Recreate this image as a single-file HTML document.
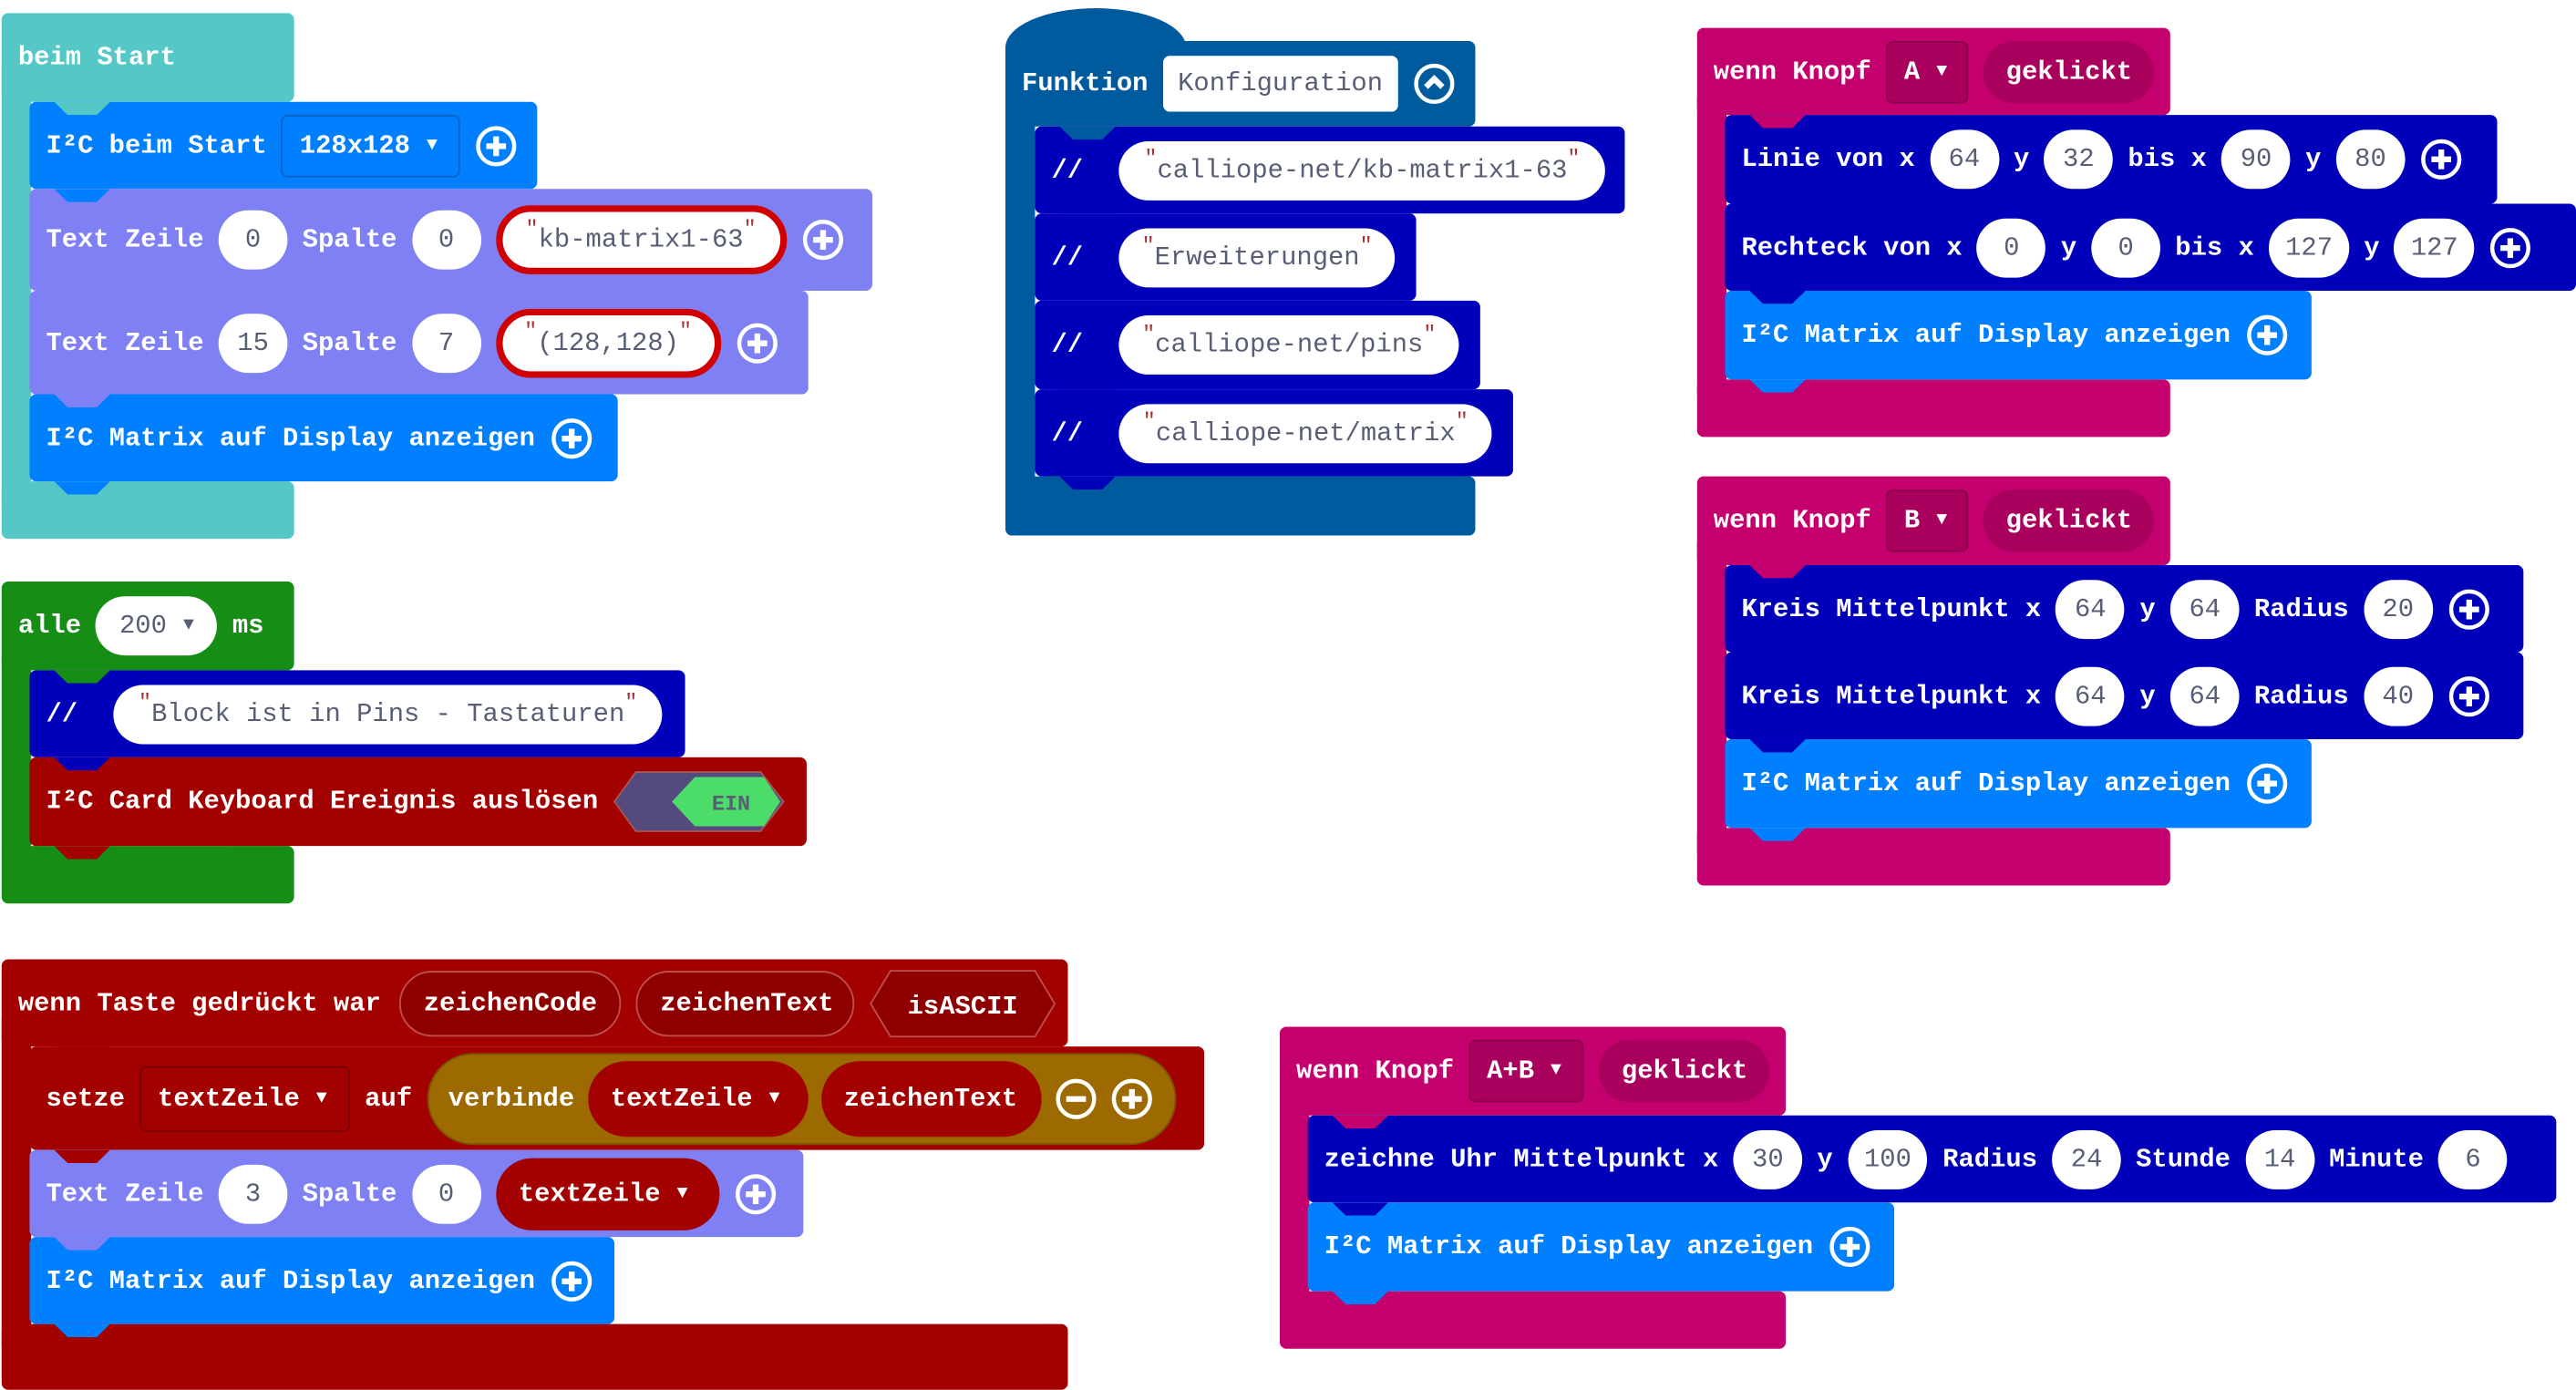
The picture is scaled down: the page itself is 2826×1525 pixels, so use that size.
<!DOCTYPE html>
<html><head><meta charset="utf-8"><style>
html,body{margin:0;padding:0;background:#fff;overflow:hidden}
#w{position:absolute;left:0;top:0;width:1568px;height:842px;transform:scale(1.80230);transform-origin:0 0}
.r{position:absolute;border-radius:4px}
.b{position:absolute;display:flex;align-items:center;gap:9px;padding-left:10px;box-sizing:border-box;color:#fff;font:bold 16px "Liberation Mono",monospace;border-radius:4px;white-space:nowrap}
.p{background:#fff;color:#575e75;height:36px;border-radius:18px;display:inline-flex;align-items:center;justify-content:center;min-width:42px;padding:0 10px;box-sizing:border-box;font-weight:normal}
.s{padding:0 14px}
.q{color:#a33;font-size:13px;position:relative;top:-7px}
.rb{border:4px solid #d00000}
.dd{height:38px;border-radius:4px;display:inline-flex;align-items:center;padding:0 10px;box-sizing:border-box;gap:10px}
.rp{height:40px;border-radius:20px;display:inline-flex;align-items:center;padding:0 14px;box-sizing:border-box;gap:10px}
.t{position:absolute;width:34px;height:8px;clip-path:polygon(0 0,100% 0,76% 100%,24% 100%)}
.ar{font-size:11px}
</style></head><body><div id="w">

<!-- beim Start -->
<div class="r" style="left:1px;top:8px;width:178px;height:54px;background:#55c7c7"></div>
<div class="r" style="left:1px;top:40px;width:18px;height:270px;background:#55c7c7;border-radius:0"></div>
<div class="r" style="left:1px;top:293px;width:178px;height:35px;background:#55c7c7"></div>
<div class="b" style="left:1px;top:8px;width:178px;height:54px">beim Start</div>
<div class="b" style="left:18px;top:62px;width:309px;height:53px;background:#0080ff">I²C beim Start <span class="dd" style="border:1px solid #0a62c0;width:109px">128x128 <span class="ar">▼</span></span><svg width="26" height="26"><circle cx="13" cy="13" r="11" fill="none" stroke="#fff" stroke-width="2.5"/><path d="M13 7v12M7 13h12" stroke="#fff" stroke-width="3.5"/></svg></div>
<div class="t" style="left:33px;top:62px;background:#55c7c7"></div>
<div class="b" style="left:18px;top:115px;width:513px;height:62px;background:#8080f5">Text Zeile <span class="p">0</span> Spalte <span class="p">0</span><span class="p s rb" style="width:177px;height:42px;border-radius:21px"><span class="q">"</span>kb-matrix1-63<span class="q">"</span></span><svg width="26" height="26"><circle cx="13" cy="13" r="11" fill="none" stroke="#fff" stroke-width="2.5"/><path d="M13 7v12M7 13h12" stroke="#fff" stroke-width="3.5"/></svg></div>
<div class="t" style="left:33px;top:115px;background:#0080ff"></div>
<div class="b" style="left:18px;top:177px;width:474px;height:63px;background:#8080f5">Text Zeile <span class="p">15</span> Spalte <span class="p">7</span><span class="p s rb" style="width:137px;height:42px;border-radius:21px"><span class="q">"</span>(128,128)<span class="q">"</span></span><svg width="26" height="26"><circle cx="13" cy="13" r="11" fill="none" stroke="#fff" stroke-width="2.5"/><path d="M13 7v12M7 13h12" stroke="#fff" stroke-width="3.5"/></svg></div>
<div class="t" style="left:33px;top:177px;background:#8080f5"></div>
<div class="b" style="left:18px;top:240px;width:358px;height:53px;background:#0080ff">I²C Matrix auf Display anzeigen<svg width="26" height="26"><circle cx="13" cy="13" r="11" fill="none" stroke="#fff" stroke-width="2.5"/><path d="M13 7v12M7 13h12" stroke="#fff" stroke-width="3.5"/></svg></div>
<div class="t" style="left:33px;top:240px;background:#8080f5"></div>
<div class="t" style="left:33px;top:293px;background:#0080ff"></div>

<!-- alle -->
<div class="r" style="left:1px;top:354px;width:178px;height:54px;background:#168e16"></div>
<div class="r" style="left:1px;top:400px;width:18px;height:120px;background:#168e16;border-radius:0"></div>
<div class="r" style="left:1px;top:515px;width:178px;height:35px;background:#168e16"></div>
<div class="b" style="left:1px;top:354px;width:178px;height:54px">alle <span class="p" style="width:74px;gap:10px;font-weight:normal">200 <span class="ar">▼</span></span> ms</div>
<div class="b" style="left:18px;top:408px;width:399px;height:53px;background:#0000bb;gap:22px">// <span class="p s" style="width:334px"><span class="q">"</span>Block ist in Pins - Tastaturen<span class="q">"</span></span></div>
<div class="t" style="left:33px;top:408px;background:#168e16"></div>
<div class="b" style="left:18px;top:461px;width:473px;height:54px;background:#a30000">I²C Card Keyboard Ereignis auslösen
<svg width="106" height="38" style="margin-left:0"><polygon points="1,19 14,1 90,1 104,19 90,37 14,37" fill="#554a7e" stroke="#a55" stroke-width="1"/><polygon points="36,19 50,4 92,4 102,19 92,34 50,34" fill="#4cdc6a"/><text x="72" y="24" font-family="Liberation Mono" font-weight="bold" font-size="13" fill="#575e75" text-anchor="middle">EIN</text></svg></div>
<div class="t" style="left:33px;top:461px;background:#0000bb"></div>
<div class="t" style="left:33px;top:515px;background:#a30000"></div>

<!-- wenn Taste -->
<div class="r" style="left:1px;top:584px;width:649px;height:53px;background:#a30000"></div>
<div class="r" style="left:1px;top:620px;width:18px;height:200px;background:#a30000;border-radius:0"></div>
<div class="r" style="left:1px;top:806px;width:649px;height:40px;background:#a30000"></div>
<div class="b" style="left:1px;top:584px;width:649px;height:53px">wenn Taste gedrückt war
<span class="rp" style="background:#8e0000;border:1px solid #c05050;width:135px;margin-left:2px">zeichenCode</span><span class="rp" style="background:#8e0000;border:1px solid #c05050;width:133px">zeichenText</span>
<svg width="114" height="42"><polygon points="1,21 13,1 101,1 113,21 101,41 13,41" fill="#8e0000" stroke="#c05050"/><text x="57" y="27" font-family="Liberation Mono" font-weight="bold" font-size="16" fill="#fff" text-anchor="middle">isASCII</text></svg></div>
<div class="b" style="left:18px;top:637px;width:715px;height:63px;background:#a30000">setze <span class="dd" style="border:1px solid #780000;width:128px;height:40px">textZeile <span class="ar">▼</span></span> auf
<span class="rp" style="background:#9c6a00;border:1px solid #7a5200;width:456px;height:56px;border-radius:28px;padding:0 8px 0 12px;gap:8px">verbinde <span class="rp" style="background:#a30000;width:134px;height:46px;border-radius:23px">textZeile <span class="ar">▼</span></span><span class="rp" style="background:#a30000;width:134px;height:46px;border-radius:23px">zeichenText</span>
<svg width="26" height="26"><circle cx="13" cy="13" r="11" fill="none" stroke="#fff" stroke-width="2.5"/><path d="M7 13h12" stroke="#fff" stroke-width="3.5"/></svg><svg width="26" height="26"><circle cx="13" cy="13" r="11" fill="none" stroke="#fff" stroke-width="2.5"/><path d="M13 7v12M7 13h12" stroke="#fff" stroke-width="3.5"/></svg></span></div>
<div class="t" style="left:33px;top:637px;background:#a30000"></div>
<div class="b" style="left:18px;top:700px;width:471px;height:53px;background:#8080f5">Text Zeile <span class="p">3</span> Spalte <span class="p">0</span><span class="rp" style="background:#a30000;width:136px;height:44px;border-radius:22px">textZeile <span class="ar">▼</span></span><svg width="26" height="26"><circle cx="13" cy="13" r="11" fill="none" stroke="#fff" stroke-width="2.5"/><path d="M13 7v12M7 13h12" stroke="#fff" stroke-width="3.5"/></svg></div>
<div class="t" style="left:33px;top:700px;background:#a30000"></div>
<div class="b" style="left:18px;top:753px;width:356px;height:53px;background:#0080ff">I²C Matrix auf Display anzeigen<svg width="26" height="26"><circle cx="13" cy="13" r="11" fill="none" stroke="#fff" stroke-width="2.5"/><path d="M13 7v12M7 13h12" stroke="#fff" stroke-width="3.5"/></svg></div>
<div class="t" style="left:33px;top:753px;background:#8080f5"></div>
<div class="t" style="left:33px;top:806px;background:#0080ff"></div>

<!-- Funktion -->
<div class="r" style="left:612px;top:5px;width:110px;height:60px;background:#005a9e;border-radius:50% 50% 0 0 / 24px 24px 0 0"></div>
<div class="r" style="left:612px;top:25px;width:286px;height:52px;background:#005a9e"></div>
<div class="r" style="left:612px;top:60px;width:18px;height:240px;background:#005a9e;border-radius:0"></div>
<div class="r" style="left:612px;top:290px;width:286px;height:36px;background:#005a9e"></div>
<div class="b" style="left:612px;top:25px;width:286px;height:52px">Funktion <span class="p" style="border-radius:4px;width:143px;height:34px">Konfiguration</span><svg width="26" height="26"><circle cx="13" cy="13" r="11" fill="none" stroke="#fff" stroke-width="2.5"/><path d="M8 15l5-5 5 5" fill="none" stroke="#fff" stroke-width="3.5"/></svg></div>
<div class="b" style="left:630px;top:77px;width:359px;height:53px;background:#0000bb;gap:22px">// <span class="p s" style="width:296px"><span class="q">"</span>calliope-net/kb-matrix1-63<span class="q">"</span></span></div>
<div class="t" style="left:645px;top:77px;background:#005a9e"></div>
<div class="b" style="left:630px;top:130px;width:232px;height:53px;background:#0000bb;gap:22px">// <span class="p s" style="width:168px"><span class="q">"</span>Erweiterungen<span class="q">"</span></span></div>
<div class="t" style="left:645px;top:130px;background:#0000bb"></div>
<div class="b" style="left:630px;top:183px;width:271px;height:54px;background:#0000bb;gap:22px">// <span class="p s" style="width:207px"><span class="q">"</span>calliope-net/pins<span class="q">"</span></span></div>
<div class="t" style="left:645px;top:183px;background:#0000bb"></div>
<div class="b" style="left:630px;top:237px;width:291px;height:53px;background:#0000bb;gap:22px">// <span class="p s" style="width:227px"><span class="q">"</span>calliope-net/matrix<span class="q">"</span></span></div>
<div class="t" style="left:645px;top:237px;background:#0000bb"></div>
<div class="t" style="left:645px;top:290px;background:#0000bb"></div>

<!-- Knopf A -->
<div class="r" style="left:1033px;top:17px;width:288px;height:53px;background:#c4006e"></div>
<div class="r" style="left:1033px;top:60px;width:18px;height:180px;background:#c4006e;border-radius:0"></div>
<div class="r" style="left:1033px;top:231px;width:288px;height:35px;background:#c4006e"></div>
<div class="b" style="left:1033px;top:17px;width:288px;height:53px">wenn Knopf <span class="dd" style="background:#a8005c;border:1px solid #8a0048;width:50px">A <span class="ar">▼</span></span><span class="rp" style="background:#a8005c;width:104px;height:38px">geklickt</span></div>
<div class="b" style="left:1050px;top:70px;width:470px;height:54px;background:#0000bb">Linie von x <span class="p">64</span> y <span class="p">32</span> bis x <span class="p">90</span> y <span class="p">80</span><svg width="26" height="26"><circle cx="13" cy="13" r="11" fill="none" stroke="#fff" stroke-width="2.5"/><path d="M13 7v12M7 13h12" stroke="#fff" stroke-width="3.5"/></svg></div>
<div class="t" style="left:1065px;top:70px;background:#c4006e"></div>
<div class="b" style="left:1050px;top:124px;width:518px;height:53px;background:#0000bb">Rechteck von x <span class="p">0</span> y <span class="p">0</span> bis x <span class="p">127</span> y <span class="p">127</span><svg width="26" height="26"><circle cx="13" cy="13" r="11" fill="none" stroke="#fff" stroke-width="2.5"/><path d="M13 7v12M7 13h12" stroke="#fff" stroke-width="3.5"/></svg></div>
<div class="t" style="left:1065px;top:124px;background:#0000bb"></div>
<div class="b" style="left:1050px;top:177px;width:357px;height:54px;background:#0080ff">I²C Matrix auf Display anzeigen<svg width="26" height="26"><circle cx="13" cy="13" r="11" fill="none" stroke="#fff" stroke-width="2.5"/><path d="M13 7v12M7 13h12" stroke="#fff" stroke-width="3.5"/></svg></div>
<div class="t" style="left:1065px;top:177px;background:#0000bb"></div>
<div class="t" style="left:1065px;top:231px;background:#0080ff"></div>

<!-- Knopf B -->
<div class="r" style="left:1033px;top:290px;width:288px;height:54px;background:#c4006e"></div>
<div class="r" style="left:1033px;top:330px;width:18px;height:190px;background:#c4006e;border-radius:0"></div>
<div class="r" style="left:1033px;top:504px;width:288px;height:35px;background:#c4006e"></div>
<div class="b" style="left:1033px;top:290px;width:288px;height:54px">wenn Knopf <span class="dd" style="background:#a8005c;border:1px solid #8a0048;width:50px">B <span class="ar">▼</span></span><span class="rp" style="background:#a8005c;width:104px;height:38px">geklickt</span></div>
<div class="b" style="left:1050px;top:344px;width:486px;height:53px;background:#0000bb">Kreis Mittelpunkt x <span class="p">64</span> y <span class="p">64</span> Radius <span class="p">20</span><svg width="26" height="26"><circle cx="13" cy="13" r="11" fill="none" stroke="#fff" stroke-width="2.5"/><path d="M13 7v12M7 13h12" stroke="#fff" stroke-width="3.5"/></svg></div>
<div class="t" style="left:1065px;top:344px;background:#c4006e"></div>
<div class="b" style="left:1050px;top:397px;width:486px;height:53px;background:#0000bb">Kreis Mittelpunkt x <span class="p">64</span> y <span class="p">64</span> Radius <span class="p">40</span><svg width="26" height="26"><circle cx="13" cy="13" r="11" fill="none" stroke="#fff" stroke-width="2.5"/><path d="M13 7v12M7 13h12" stroke="#fff" stroke-width="3.5"/></svg></div>
<div class="t" style="left:1065px;top:397px;background:#0000bb"></div>
<div class="b" style="left:1050px;top:450px;width:357px;height:54px;background:#0080ff">I²C Matrix auf Display anzeigen<svg width="26" height="26"><circle cx="13" cy="13" r="11" fill="none" stroke="#fff" stroke-width="2.5"/><path d="M13 7v12M7 13h12" stroke="#fff" stroke-width="3.5"/></svg></div>
<div class="t" style="left:1065px;top:450px;background:#0000bb"></div>
<div class="t" style="left:1065px;top:504px;background:#0080ff"></div>

<!-- Knopf A+B -->
<div class="r" style="left:779px;top:625px;width:308px;height:54px;background:#c4006e"></div>
<div class="r" style="left:779px;top:665px;width:18px;height:140px;background:#c4006e;border-radius:0"></div>
<div class="r" style="left:779px;top:786px;width:308px;height:35px;background:#c4006e"></div>
<div class="b" style="left:779px;top:625px;width:308px;height:54px">wenn Knopf <span class="dd" style="background:#a8005c;border:1px solid #8a0048;width:70px">A+B <span class="ar">▼</span></span><span class="rp" style="background:#a8005c;width:104px;height:38px">geklickt</span></div>
<div class="b" style="left:796px;top:679px;width:760px;height:53px;background:#0000bb">zeichne Uhr Mittelpunkt x <span class="p">30</span> y <span class="p">100</span> Radius <span class="p">24</span> Stunde <span class="p">14</span> Minute <span class="p">6</span></div>
<div class="t" style="left:811px;top:679px;background:#c4006e"></div>
<div class="b" style="left:796px;top:732px;width:357px;height:54px;background:#0080ff">I²C Matrix auf Display anzeigen<svg width="26" height="26"><circle cx="13" cy="13" r="11" fill="none" stroke="#fff" stroke-width="2.5"/><path d="M13 7v12M7 13h12" stroke="#fff" stroke-width="3.5"/></svg></div>
<div class="t" style="left:811px;top:732px;background:#0000bb"></div>
<div class="t" style="left:811px;top:786px;background:#0080ff"></div>

</div></body></html>
